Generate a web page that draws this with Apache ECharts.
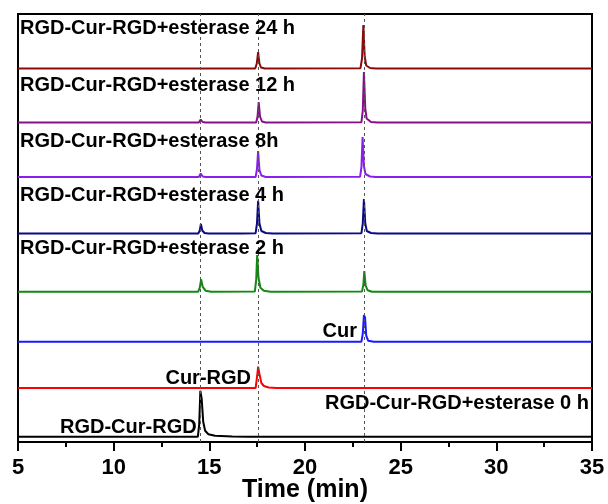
<!DOCTYPE html>
<html><head><meta charset="utf-8">
<script src="https://cdn.jsdelivr.net/npm/echarts@6/dist/echarts.min.js"></script>
<style>html,body{margin:0;padding:0;background:#fff}#c{width:608px;height:504px}</style>
</head><body><div id="c"></div>
<script>
// x-axis ticks
const xTicks = [5, 10, 15, 20, 25, 30, 35];
// reference retention times (dashed lines), min
const refTimes = [14.55, 17.55, 23.1];
// series names
const names = ["RGD-Cur-RGD+esterase 0 h", "Cur-RGD", "Cur", "RGD-Cur-RGD+esterase 2 h",
  "RGD-Cur-RGD+esterase 4 h", "RGD-Cur-RGD+esterase 8h", "RGD-Cur-RGD+esterase 12 h", "RGD-Cur-RGD+esterase 24 h"];
// vertical stacking offsets (arbitrary intensity units)
const offsets = [5.3, 54, 100.3, 150.3, 208.5, 265, 319.5, 373.5];
// traces: [time (min), intensity]
const trace0h = [[5,0],[13.4,0],[13.47,1],[13.55,0],[14.4,0],[14.47,12],[14.53,46],[14.6,38],[14.68,15],[14.78,6],[14.95,2.5],[15.3,1],[16.2,0.3],[17,0],[35,0]];
const traceCurRGD = [[5,0],[17.42,0],[17.5,12],[17.55,21.3],[17.62,14],[17.72,5],[17.85,2],[18.1,0.5],[18.5,0],[35,0]];
const traceCur = [[5,0],[22.95,0],[23.02,8],[23.08,26.7],[23.14,24],[23.2,6],[23.3,1],[23.6,0],[35,0]];
const trace2h = [[5,0],[14.42,0],[14.5,4],[14.57,12.4],[14.65,5],[14.8,1],[15.1,0],[17.38,0.3],[17.45,12],[17.5,36.7],[17.57,14],[17.67,4],[17.85,1],[18.2,0],[22.98,0.3],[23.05,7],[23.1,20.7],[23.17,6],[23.27,1.5],[23.5,0],[35,0]];
const trace4h = [[5,0],[13.3,0],[13.4,0.8],[13.5,0],[14.42,0],[14.5,3],[14.56,9.5],[14.63,3],[14.75,0.5],[14.95,0],[16.5,0],[16.6,0.8],[16.7,0],[17.42,0.3],[17.49,10],[17.55,32.8],[17.62,10],[17.72,2.5],[17.95,0.5],[18.3,0],[22.95,0.3],[23.02,10],[23.08,34.5],[23.15,10],[23.23,2.5],[23.45,0.5],[23.8,0],[35,0]];
const trace8h = [[5,0],[13.3,0],[13.4,0.8],[13.5,0],[14.45,0],[14.55,3.5],[14.65,0.5],[14.8,0],[16.5,0],[16.6,0.8],[16.7,0],[17.42,0],[17.49,8],[17.55,26],[17.62,7],[17.72,1.5],[17.95,0],[22.88,0.3],[22.95,10],[23.01,40],[23.08,11],[23.16,3],[23.4,0.5],[23.7,0],[35,0]];
const trace12h = [[5,0],[13.3,0],[13.4,0.8],[13.5,0],[14.45,0],[14.55,3],[14.65,0.5],[14.8,0],[16.5,0],[16.6,0.8],[16.7,0],[17.45,0],[17.52,6],[17.58,20.5],[17.65,6],[17.75,1],[17.95,0],[22.95,0.3],[23.02,12],[23.08,50.5],[23.15,14],[23.22,4],[23.45,0.5],[23.8,0],[35,0]];
const trace24h = [[5,0],[13.3,0],[13.4,0.8],[13.5,0],[14.45,0],[14.55,1.5],[14.7,0],[16.5,0],[16.6,1],[16.7,0],[17.4,0],[17.48,5],[17.55,16.5],[17.62,5],[17.7,1],[17.9,0],[22.9,0.3],[22.98,10],[23.05,43.5],[23.12,12],[23.2,3],[23.4,0.5],[23.7,0],[35,0]];
const traces = [trace0h, traceCurRGD, traceCur, trace2h, trace4h, trace8h, trace12h, trace24h];

const colors = ["#000000", "#ff0000", "#1a1aff", "#128a12", "#0a0a85", "#8a1ef0", "#85108a", "#8c0a0a"];
const font = "'Liberation Sans', Arial, sans-serif";

const series = traces.map((t, i) => ({
  name: names[i], type: 'line', symbol: 'none', animation: false,
  lineStyle: { color: colors[i], width: 2 }, itemStyle: { color: colors[i] },
  data: t.map(p => [p[0], offsets[i] + p[1]]), z: 3,
  markLine: i === 0 ? {
    silent: true, symbol: 'none', label: { show: false }, animation: false,
    lineStyle: { type: [3, 3], color: '#555', width: 1 },
    data: refTimes.map(v => ({ xAxis: v }))
  } : undefined
}));

const labelSpecs = [
  { text: names[7], x: 20, y: 28, align: 'left' },
  { text: names[6], x: 20, y: 85, align: 'left' },
  { text: names[5], x: 20, y: 141, align: 'left' },
  { text: names[4], x: 20, y: 195, align: 'left' },
  { text: names[3], x: 20, y: 248, align: 'left' },
  { text: "Cur", x: 357, y: 331, align: 'right' },
  { text: "Cur-RGD", x: 251, y: 378, align: 'right' },
  { text: "RGD-Cur-RGD", x: 60, y: 427, align: 'left' },
  { text: names[0], x: 325, y: 403, align: 'left' }
];

const chart = echarts.init(document.getElementById('c'), null, { renderer: 'canvas' });
chart.setOption({
  animation: false,
  backgroundColor: '#fff',
  grid: { left: 18, right: 16, top: 14, bottom: 62, containLabel: false, outerBoundsMode: 'none',
    show: true, borderColor: '#000', borderWidth: 2, backgroundColor: 'transparent' },
  xAxis: {
    type: 'value', min: 5, max: 35, interval: 5,
    name: 'Time (min)', nameLocation: 'middle', nameGap: 36, nameMoveOverlap: false,
    nameTextStyle: { fontFamily: font, fontWeight: 'bold', fontSize: 25, color: '#000' },
    axisLine: { show: true, lineStyle: { color: '#000', width: 2 } },
    axisTick: { show: true, length: 9, lineStyle: { color: '#000', width: 2 } },
    minorTick: { show: true, splitNumber: 2, length: 5, lineStyle: { color: '#000', width: 2 } },
    axisLabel: { fontFamily: font, fontWeight: 'bold', fontSize: 22, color: '#000', margin: 15,
      formatter: v => xTicks.includes(v) ? String(v) : '' },
    splitLine: { show: false }
  },
  yAxis: {
    type: 'value', min: 0, max: 428,
    axisLine: { show: true, lineStyle: { color: '#000', width: 2 } },
    axisTick: { show: false }, axisLabel: { show: false }, splitLine: { show: false }
  },
  series: series,
  graphic: labelSpecs.map(l => ({
    type: 'text', x: l.x, y: l.y, z: 10,
    style: { text: l.text, fill: '#000', font: 'bold 20px ' + font, textAlign: l.align, textVerticalAlign: 'middle' }
  }))
});
</script></body></html>
